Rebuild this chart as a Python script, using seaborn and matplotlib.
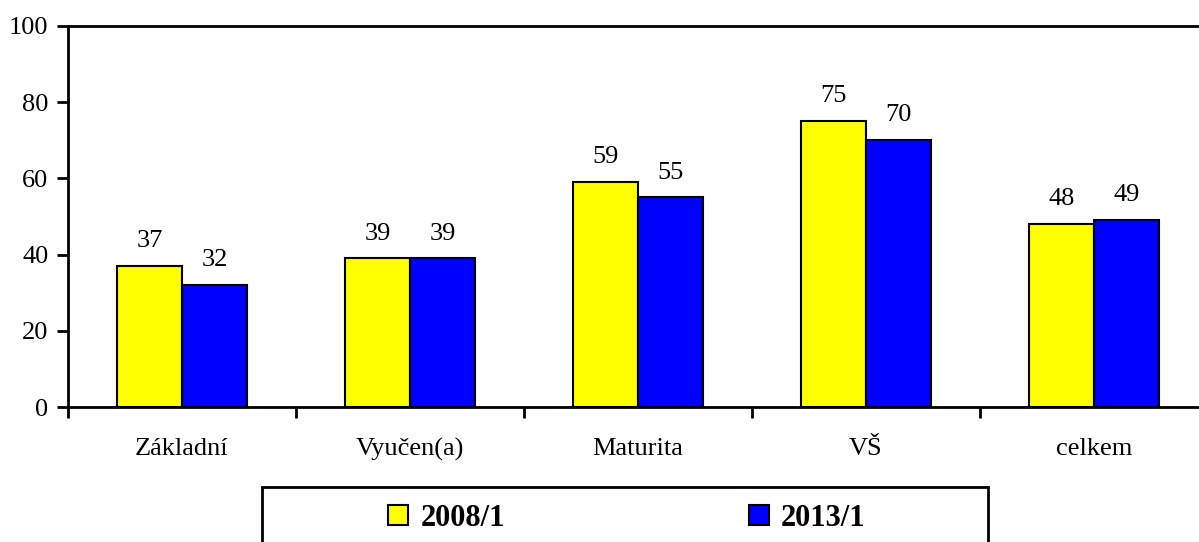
import pandas
import seaborn
import matplotlib.pyplot as plt
from matplotlib.patches import Rectangle
from matplotlib.ticker import FixedLocator

categories = ['Základní', 'Vyučen(a)', 'Maturita', 'VŠ', 'celkem']
years = ['2008/1', '2013/1']
values_2008 = [37, 39, 59, 75, 48]
values_2013 = [32, 39, 55, 70, 49]
y_ticks = [0, 20, 40, 60, 80, 100]

df = pandas.DataFrame({
    'category': categories * 2,
    'year': [years[0]] * len(categories) + [years[1]] * len(categories),
    'value': values_2008 + values_2013,
})

seaborn.set_style('white')
plt.rcParams['font.family'] = ['Liberation Serif', 'DejaVu Serif']
plt.rcParams['text.color'] = 'black'
plt.rcParams['xtick.color'] = 'black'
plt.rcParams['ytick.color'] = 'black'

fig = plt.figure(figsize=(11.99, 5.42), dpi=100)
# axes run slightly past the right edge, as in the original
ax = fig.add_axes([68 / 1199, 1 - 407 / 542, 1140 / 1199, 381 / 542])

seaborn.barplot(
    data=df, x='category', y='value', hue='year',
    order=categories, hue_order=years,
    palette=['#ffff00', '#0000ff'], width=0.57,
    edgecolor='black', linewidth=1.5, saturation=1, ax=ax
)

for container in ax.containers:
    ax.bar_label(container, padding=10, fontsize=19, color='black')

ax.set_xlim(-0.5, len(categories) - 0.5)
ax.set_ylim(0, 100)
ax.set_yticks(y_ticks)
ax.set_xlabel('')
ax.set_ylabel('')

# ticks on category boundaries, labels centred
ax.xaxis.set_minor_locator(FixedLocator([i - 0.5 for i in range(len(categories) + 1)]))
ax.tick_params(axis='x', which='major', length=0, pad=22, labelsize=19)
ax.tick_params(axis='x', which='minor', length=8, width=2, direction='out', bottom=True)
ax.tick_params(axis='y', length=8, width=2, direction='out', left=True, labelsize=19, pad=6)

for side in ['left', 'bottom', 'top']:
    ax.spines[side].set_visible(True)
    ax.spines[side].set_linewidth(2)
    ax.spines[side].set_color('black')
ax.spines['right'].set_visible(False)

handles, labels = ax.get_legend_handles_labels()
ax.legend_.remove()
leg = fig.legend(
    handles, labels, ncol=2, loc='center',
    bbox_to_anchor=(627 / 1199, 1 - 518 / 542),
    frameon=False, prop={'weight': 'bold', 'size': 22},
    handlelength=0.65, handleheight=0.65, handletextpad=0.4,
    columnspacing=7.98
)
for t in leg.get_texts():
    t.set_color('black')

# legend box, running off the bottom of the picture
fig.patches.append(Rectangle(
    (262 / 1199, -0.05), 726 / 1199, 1 - 487 / 542 + 0.05,
    transform=fig.transFigure, fill=False, edgecolor='black', linewidth=2
))

plt.savefig('out.png', dpi=100)
